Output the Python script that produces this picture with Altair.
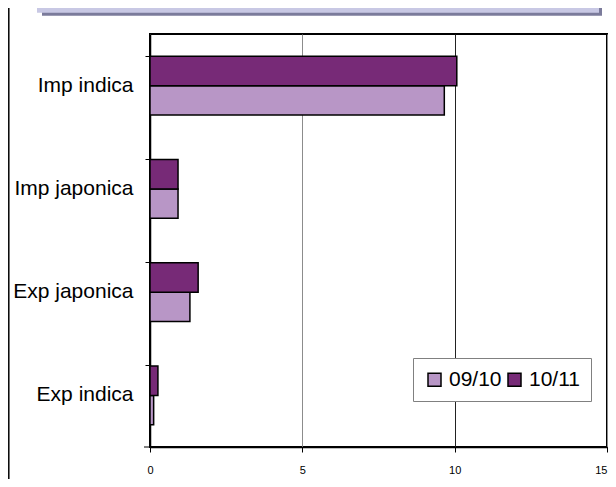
import altair as alt
import pandas as pd

categories = ["Imp indica", "Imp japonica", "Exp japonica", "Exp indica"]
values_0910 = [9.66, 0.92, 1.31, 0.12]
values_1011 = [10.07, 0.92, 1.58, 0.26]
seasons = ["09/10", "10/11"]
season_colors = ["#B896C6", "#772A77"]
x_ticks = [0, 5, 10, 15]

rows = []
for c, a, b in zip(categories, values_0910, values_1011):
    rows.append({"category": c, "season": "09/10", "value": a})
    rows.append({"category": c, "season": "10/11", "value": b})
df = pd.DataFrame(rows)
dummy = pd.DataFrame({"k": [0]})

FONT = "Liberation Sans"

bars = alt.Chart(df).mark_bar(stroke="black", strokeWidth=1.5).encode(
    x=alt.X(
        "value:Q",
        scale=alt.Scale(domain=[0, 15], nice=False),
        axis=alt.Axis(
            values=x_ticks, title=None, grid=True,
            gridColor=alt.condition("datum.value == 10", alt.value("#222222"), alt.value("#8c8c8c")),
            gridWidth=1, tickSize=5, tickColor="black", labelFontSize=11, labelFont=FONT,
            labelColor="black", labelPadding=12, labelFlush=False,
            labelAlign=alt.condition("datum.value == 15", alt.value("right"), alt.value("center")),
            domainColor="black", domainWidth=1.5,
        ),
    ),
    y=alt.Y(
        "category:N", sort=categories,
        scale=alt.Scale(paddingInner=0.43, paddingOuter=0.215),
        axis=alt.Axis(
            title=None, bandPosition=0, ticks=True, tickSize=5, tickColor="black",
            labelFontSize=21, labelFont=FONT, labelColor="black", labelPadding=12,
            domainColor="black", domainWidth=1.5, grid=False,
        ),
    ),
    yOffset=alt.YOffset("season:N", sort=["10/11", "09/10"]),
    color=alt.Color(
        "season:N",
        scale=alt.Scale(domain=seasons, range=season_colors),
        legend=alt.Legend(
            title=None, orient="none", legendX=263, legendY=324, direction="horizontal",
            symbolType="square", symbolSize=169, symbolStrokeColor="black",
            symbolStrokeWidth=1.5, labelFontSize=21, labelFont=FONT, labelColor="black",
            padding=11, strokeColor="#808080", fillColor="white", columnPadding=2,
            labelOffset=4, symbolOpacity=1,
        ),
    ),
)

bottom_tick = alt.Chart(dummy).mark_rule(color="black", strokeWidth=1).encode(
    x=alt.value(-6), x2=alt.value(0), y=alt.value(413)
)

shadow = alt.Chart(dummy).mark_rect(color="#7B7B9B").encode(
    x=alt.value(-108), x2=alt.value(452), y=alt.value(-31), y2=alt.value(-18.3)
)
banner = alt.Chart(dummy).mark_rect(color="#C8C8E4").encode(
    x=alt.value(-113), x2=alt.value(449), y=alt.value(-34), y2=alt.value(-21.3)
)
underline1 = alt.Chart(dummy).mark_rect(color="#3F63B5").encode(
    x=alt.value(-88), x2=alt.value(-4), y=alt.value(-30.7), y2=alt.value(-28.5)
)
underline2 = alt.Chart(dummy).mark_rect(color="#3F63B5").encode(
    x=alt.value(3), x2=alt.value(88), y=alt.value(-30.7), y2=alt.value(-28.5)
)

left_border = alt.Chart(dummy).mark_rule(color="black", strokeWidth=1.5).encode(
    x=alt.value(-141.2), y=alt.value(-34), y2=alt.value(453)
)

chart = alt.layer(shadow, banner, underline1, underline2, left_border, bars, bottom_tick).properties(
    width=457, height=413,
    autosize=alt.AutoSizeParams(type="none"),
    padding={"left": 142, "top": 26, "right": 1, "bottom": 32},
    background="white",
).configure_view(stroke="black", strokeWidth=2)

chart.save("out.html", embed_options={"renderer": "svg", "actions": False})
